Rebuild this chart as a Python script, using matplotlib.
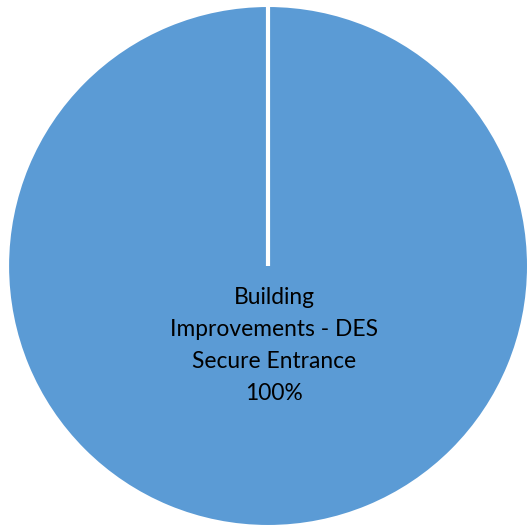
import matplotlib
matplotlib.use('Agg')
import matplotlib.pyplot as plt

categories = ['Building\nImprovements - DES\nSecure Entrance']
values = [100]
colors = ['#5B9BD5']

fig = plt.figure(figsize=(5.27, 5.29), dpi=100)
ax = fig.add_axes([0, 0, 1, 1])

ax.pie(values, colors=colors, startangle=90, counterclock=False,
       radius=1.0, wedgeprops=dict(edgecolor='white', linewidth=1.5))
# the slice boundary at 12 o'clock
ax.plot([0, 0], [0, 1.0], color='white', linewidth=3, solid_capstyle='butt')

total = sum(values)
for cat, v in zip(categories, values):
    ax.text(0.024, -0.305, f"{cat}\n{v / total:.0%}", ha='center', va='center',
            fontsize=16.4, family='Lato', linespacing=1.65, color='black')

ax.set_xlim(-1.031, 0.996)
ax.set_ylim(-1.0115, 1.023)
ax.set_aspect('auto')
ax.axis('off')

plt.savefig('out.png', dpi=100)
